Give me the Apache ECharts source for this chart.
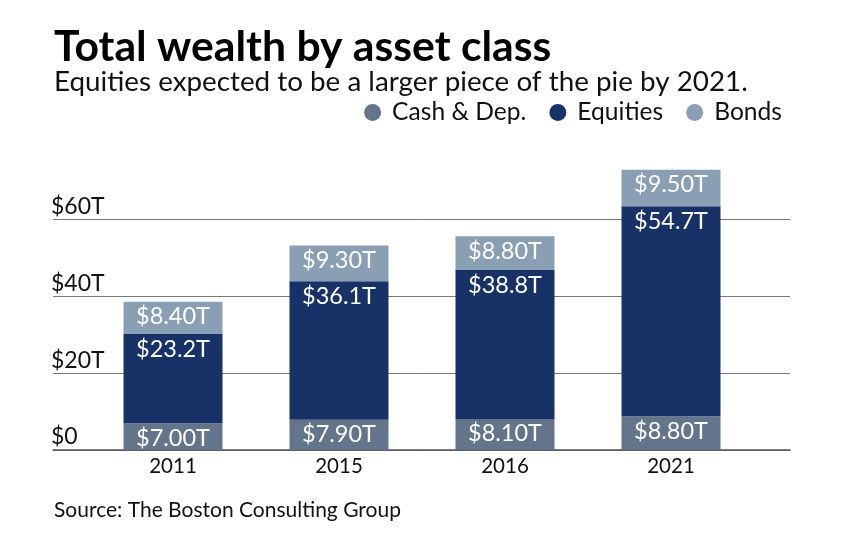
<!DOCTYPE html>
<html><head><meta charset="utf-8">
<style>html,body{margin:0;background:#fff}#c{width:844px;height:550px}</style>
<script src="https://cdn.jsdelivr.net/npm/echarts@6/dist/echarts.min.js"></script></head>
<body><div id="c"></div>
<script>
const categories=['2011','2015','2016','2021'];
const cash=[7.0,7.9,8.1,8.8];
const equities=[23.2,36.1,38.8,54.7];
const bonds=[8.4,9.3,8.8,9.5];
const cashLabels=['$7.00T','$7.90T','$8.10T','$8.80T'];
const equityLabels=['$23.2T','$36.1T','$38.8T','$54.7T'];
const bondLabels=['$8.40T','$9.30T','$8.80T','$9.50T'];
const font='Lato';
const chart=echarts.init(document.getElementById('c'));
function s(name,data,labels,color){return {name,type:'bar',stack:'t',xAxisIndex:0,yAxisIndex:0,data,barWidth:99,
 itemStyle:{color},
 label:{show:true,position:'insideTop',distance:3,color:'#fff',fontFamily:font,fontSize:23.5,
  formatter:p=>labels[p.dataIndex]}};}
chart.setOption({animation:false,
 title:[{text:'Total wealth by asset class',left:54,top:26,padding:0,textStyle:{fontFamily:font,fontWeight:700,fontSize:42.7,color:'#000'}},
  {text:'Equities expected to be a larger piece of the pie by 2021.',left:54,top:68,padding:0,textStyle:{fontFamily:font,fontWeight:400,fontSize:27.8,color:'#111'}},
  {text:'Source: The Boston Consulting Group',left:54,top:500,padding:0,textStyle:{fontFamily:font,fontWeight:400,fontSize:21,color:'#111'}}],
 legend:{right:62,top:100,padding:0,icon:'circle',itemWidth:17,itemHeight:17,itemGap:23,selectedMode:false,
  textStyle:{fontFamily:font,fontSize:24.6,color:'#111',padding:[0,0,0,6]},data:['Cash & Dep.','Equities','Bonds']},
 grid:[{left:90,right:90,top:143,bottom:100},{left:53,right:54,top:219.6,bottom:100}],
 xAxis:[{type:'category',gridIndex:0,data:categories,axisTick:{show:false},axisLine:{show:false},
   axisLabel:{fontFamily:font,fontSize:20.5,color:'#111',margin:6}},
  {type:'value',gridIndex:1,min:0,max:1,axisTick:{show:false},axisLabel:{show:false},splitLine:{show:false},
   axisLine:{onZero:false,lineStyle:{color:'#555',width:1.5}}}],
 yAxis:[{type:'value',gridIndex:0,min:0,max:80,interval:20,show:false},
  {type:'value',gridIndex:1,min:0,max:60,interval:20,axisLine:{show:false},axisTick:{show:false},
   splitLine:{lineStyle:{color:'#777',width:1}},
   axisLabel:{inside:true,margin:-2,verticalAlign:'bottom',lineHeight:26,fontFamily:font,fontSize:23,color:'#111',
    formatter:v=>v===0?'$0':'$'+v+'T'}}],
 series:[s('Cash & Dep.',cash,cashLabels,'#64748a'),s('Equities',equities,equityLabels,'#183167'),s('Bonds',bonds,bondLabels,'#8a9fb3')]
});
</script></body></html>
